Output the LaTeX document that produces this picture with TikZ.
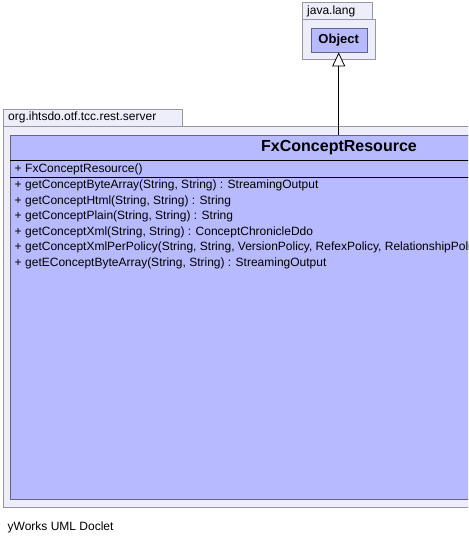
\documentclass[tikz,border=0pt]{standalone}
\usepackage{fontspec}
\setmainfont{Liberation Sans}
\usetikzlibrary{arrows.meta}
\definecolor{classfill}{RGB}{184,186,255}
\definecolor{pkgfill}{RGB}{238,238,250}
\definecolor{pkgline}{RGB}{150,150,165}
\definecolor{classline}{RGB}{100,100,135}
\tikzset{
  pkg/.style={draw=pkgline, fill=pkgfill, rectangle, inner sep=0pt, anchor=north west},
  umlclass/.style={draw=classline, fill=classfill, rectangle, inner sep=0pt, anchor=north west},
  label/.style={anchor=west, inner sep=0pt, font=\fontsize{12}{14}\selectfont},
  member/.style={label},
  sep/.style={draw=black, line width=1pt},
  inherits/.style={-{Triangle[open, length=14pt, width=13pt, fill=white]}, line width=0.8pt}
}
\begin{document}
\begin{tikzpicture}[x=1pt,y=-1pt]
\useasboundingbox (0,0) rectangle (468,545);
\clip (0,0) rectangle (468,545);
% package java.lang
\node[pkg, minimum width=70pt, minimum height=17pt] (langtab) at (302,2) {};
\node[pkg, minimum width=72.5pt, minimum height=40pt] (langbody) at (302,19) {};
\node[label] at (307,11) {java.lang};
\node[umlclass, minimum width=56pt, minimum height=24pt] (obj) at (310.5,28) {};
\node[font=\fontsize{13}{15}\selectfont\bfseries] at (obj) {Object};
% package org.ihtsdo.otf.tcc.rest.server
\node[pkg, minimum width=179pt, minimum height=17pt] (srvtab) at (3,109) {};
\node[pkg, minimum width=500pt, minimum height=381pt] (srvbody) at (3,126) {};
\node[label] at (8,117.5) {org.ihtsdo.otf.tcc.rest.server};
% class FxConceptResource
\node[umlclass, minimum width=500pt, minimum height=364pt] (cls) at (10,135) {};
\node[font=\fontsize{16}{18}\selectfont\bfseries] (clsname) at (339,148) {FxConceptResource};
\draw[sep] (cls.west |- 0,160.5) -- (cls.east |- 0,160.5);
\draw[sep] (cls.west |- 0,177.5) -- (cls.east |- 0,177.5);
\node[member] at (14.5,169) {+};
\node[member] at (25,169) {FxConceptResource()};
\foreach \m [count=\i from 0] in {
  {getConceptByteArray(String, String) : StreamingOutput},
  {getConceptHtml(String, String) : String},
  {getConceptPlain(String, String) : String},
  {getConceptXml(String, String) : ConceptChronicleDdo},
  {getConceptXmlPerPolicy(String, String, VersionPolicy, RefexPolicy, RelationshipPolicy)},
  {getEConceptByteArray(String, String) : StreamingOutput}}
{
  \node[member] at (14.5,185.5+15.5*\i) {+};
  \node[member] at (25,185.5+15.5*\i) {\m};
}
\draw[inherits] (obj.south |- cls.north) -- (obj.south);
\node[label] (doclet) at (7.5,527) {yWorks UML Doclet};
\end{tikzpicture}
\end{document}
